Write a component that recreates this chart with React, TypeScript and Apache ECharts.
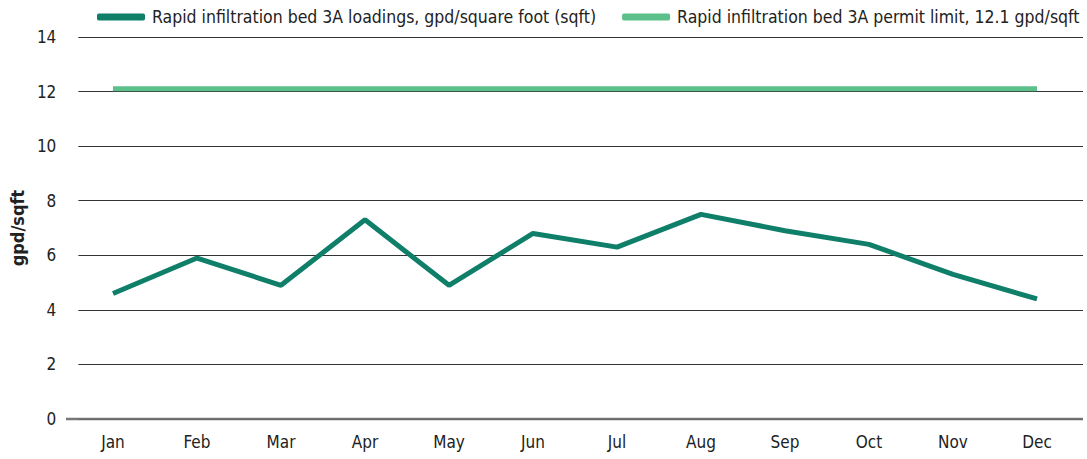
import React, { useEffect, useRef } from "react";
import * as echarts from "echarts";

const months = ["Jan", "Feb", "Mar", "Apr", "May", "Jun", "Jul", "Aug", "Sep", "Oct", "Nov", "Dec"];
const loadings = [4.6, 5.9, 4.9, 7.3, 4.9, 6.8, 6.3, 7.5, 6.9, 6.4, 5.3, 4.4];
const permitLimit = [12.1, 12.1, 12.1, 12.1, 12.1, 12.1, 12.1, 12.1, 12.1, 12.1, 12.1, 12.1];
const loadName = "Rapid infiltration bed 3A loadings, gpd/square foot (sqft)";
const limitName = "Rapid infiltration bed 3A permit limit, 12.1 gpd/sqft";

const FONT = "'DejaVu Sans Condensed', 'Liberation Sans Narrow', sans-serif";

export default function App() {
  const ref = useRef<HTMLDivElement>(null);
  useEffect(() => {
    if (!ref.current) return;
    const chart = echarts.init(ref.current, null, { renderer: "svg" });
    chart.setOption({
      animation: false,
      textStyle: { fontFamily: FONT },
      legend: {
        top: 8,
        left: 97,
        width: 990,
        padding: 0,
        itemWidth: 48,
        itemHeight: 7,
        itemGap: 26,
        icon: "roundRect",
        textStyle: { fontFamily: FONT, fontSize: 17.5, color: "#222", padding: [0, 0, 0, 2] },
        data: [loadName, limitName],
      },
      grid: [
        { left: 66, right: 4, top: 37, bottom: 40 },
        { left: 71, right: 8, top: 37, bottom: 40 },
      ],
      xAxis: [
        { type: "category", gridIndex: 0, data: months, show: false },
        {
          type: "category",
          gridIndex: 1,
          data: months,
          boundaryGap: true,
          axisLine: { show: false },
          axisTick: { show: false },
          axisLabel: { fontFamily: FONT, fontSize: 17, color: "#222", margin: 14 },
        },
      ],
      yAxis: [
        {
          type: "value",
          gridIndex: 0,
          min: 0,
          max: 14,
          interval: 2,
          name: "gpd/sqft",
          nameLocation: "middle",
          nameGap: 40,
          nameTextStyle: { fontFamily: FONT, fontSize: 18, fontWeight: "bold", color: "#222" },
          axisLine: { show: false },
          axisTick: { show: false },
          axisLabel: { fontFamily: FONT, fontSize: 17, color: "#222", margin: 22 },
          splitLine: {
            show: true,
            lineStyle: { color: ["#666", "#333", "#333", "#333", "#333", "#333", "#333", "#333"], width: 1 },
          },
        },
        { type: "value", gridIndex: 1, min: 0, max: 14, interval: 2, show: false },
      ],
      series: [
        {
          name: loadName,
          type: "line",
          xAxisIndex: 1,
          yAxisIndex: 1,
          data: loadings,
          symbol: "none",
          lineStyle: { color: "#0f7f6a", width: 5 },
          itemStyle: { color: "#0f7f6a" },
        },
        {
          name: limitName,
          type: "line",
          xAxisIndex: 1,
          yAxisIndex: 1,
          data: permitLimit,
          symbol: "none",
          lineStyle: { color: "#5cc08a", width: 5 },
          itemStyle: { color: "#5cc08a" },
        },
      ],
      graphic: [
        {
          type: "line",
          shape: { x1: 66, y1: 419, x2: 1083, y2: 419 },
          style: { stroke: "#777", lineWidth: 2.5 },
        },
      ],
    });
    return () => chart.dispose();
  }, []);
  return <div ref={ref} style={{ width: 1087, height: 459, position: "absolute", left: 0, top: 0 }} />;
}
